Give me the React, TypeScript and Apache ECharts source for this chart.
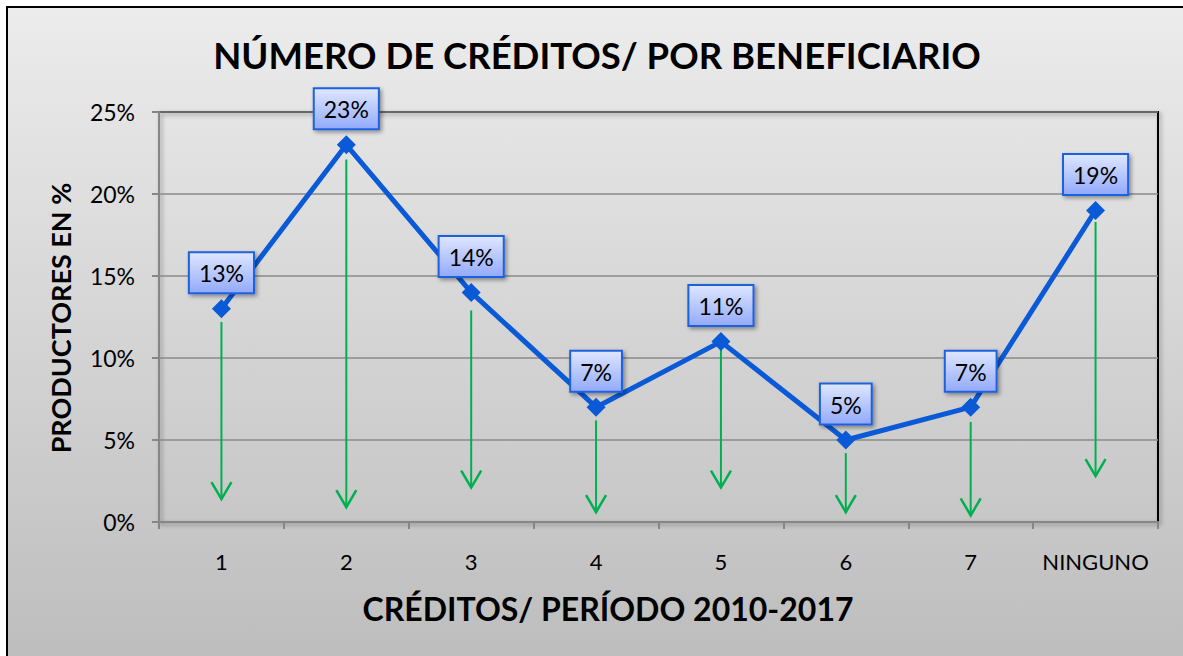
import React, { useEffect, useRef } from "react";
import * as echarts from "echarts";

const categories = ["1", "2", "3", "4", "5", "6", "7", "NINGUNO"];
const values = [13, 23, 14, 7, 11, 5, 7, 19];
const arrowStart = [12.2, 22.1, 12.9, 6.2, 10.5, 4.2, 6.1, 18.3];
const arrowEnd = [1.4, 0.9, 2.1, 0.6, 2.1, 0.6, 0.4, 2.8];
const yTicks = { min: 0, max: 25, interval: 5 };
const titleText = "NÚMERO DE CRÉDITOS/ POR BENEFICIARIO";
const xName = "CRÉDITOS/ PERÍODO 2010-2017";
const yName = "PRODUCTORES EN %";

const FONT = "Lato, 'Noto Sans', sans-serif";

export default function App() {
  const ref = useRef<HTMLDivElement>(null);
  useEffect(() => {
    if (!ref.current) return;
    const chart = echarts.init(ref.current, null, { renderer: "svg" });
    const green = "#00b050";
    chart.setOption({
      animation: false,
      textStyle: { fontFamily: FONT },
      graphic: [
        {
          type: "rect",
          z: -100,
          silent: true,
          shape: { x: 7, y: 7, width: 1190, height: 670 },
          style: {
            fill: new echarts.graphic.LinearGradient(0, 0, 0, 1, [
              { offset: 0, color: "#ececec" },
              { offset: 1, color: "#bcbcbc" },
            ]),
            stroke: "#000",
            lineWidth: 2,
          },
        },
        {
          type: "text",
          x: 597,
          y: 55,
          style: {
            text: titleText,
            align: "center",
            verticalAlign: "middle",
            font: `bold 36.5px ${FONT}`,
            fill: "#000",
          },
        },
        {
          type: "text",
          x: 608,
          y: 608,
          style: {
            text: xName,
            align: "center",
            verticalAlign: "middle",
            font: `bold 32px ${FONT}`,
            fill: "#000",
          },
        },
        {
          type: "text",
          x: 60,
          y: 318,
          rotation: Math.PI / 2,
          style: {
            text: yName,
            align: "center",
            verticalAlign: "middle",
            font: `bold 27px ${FONT}`,
            fill: "#000",
          },
        },
      ],
      grid: {
        left: 159,
        top: 112,
        right: 25,
        bottom: 134,
        show: true,
        borderColor: "#000",
        borderWidth: 2,
        backgroundColor: "transparent",
        shadowColor: "rgba(0,0,0,0.35)",
        shadowBlur: 4,
        shadowOffsetX: 2,
        shadowOffsetY: 2,
      },
      xAxis: {
        type: "category",
        data: categories,
        boundaryGap: true,
        axisLine: { show: true, lineStyle: { color: "#868686", width: 2 } },
        axisTick: { show: true, interval: 0, length: 7, lineStyle: { color: "#868686", width: 2 } },
        axisLabel: { interval: 0, color: "#000", fontSize: 22, fontFamily: FONT, margin: 28 },
        splitLine: { show: false },
      },
      yAxis: {
        type: "value",
        min: yTicks.min,
        max: yTicks.max,
        interval: yTicks.interval,
        axisLine: { show: true, lineStyle: { color: "#868686", width: 2 } },
        axisTick: { show: true, length: 7, lineStyle: { color: "#868686", width: 2 } },
        axisLabel: {
          color: "#000",
          fontSize: 23,
          fontFamily: FONT,
          margin: 24,
          formatter: "{value}%",
        },
        splitLine: { show: true, lineStyle: { color: "#8a8a8a", width: 1.5 } },
      },
      series: [
        {
          type: "custom",
          z: 1,
          silent: true,
          data: arrowStart.map((s, i) => [i, s, arrowEnd[i]]),
          encode: { x: 0, y: [1, 2] },
          renderItem: (params: any, api: any) => {
            const s = api.coord([api.value(0), api.value(1)]);
            const e = api.coord([api.value(0), api.value(2)]);
            return {
              type: "group",
              children: [
                {
                  type: "line",
                  shape: { x1: s[0], y1: s[1], x2: e[0], y2: e[1] },
                  style: { stroke: green, lineWidth: 2 },
                },
                {
                  type: "polyline",
                  shape: {
                    points: [
                      [e[0] - 10, e[1] - 17],
                      [e[0], e[1]],
                      [e[0] + 10, e[1] - 17],
                    ],
                  },
                  style: { stroke: green, lineWidth: 2.5, fill: "none" },
                },
              ],
            };
          },
        },
        {
          type: "line",
          z: 3,
          data: values,
          symbol: "diamond",
          symbolSize: 19,
          lineStyle: { color: "#0a5ad8", width: 5 },
          itemStyle: { color: "#0a5ad8" },
          label: {
            show: true,
            position: "top",
            distance: 7,
            formatter: "{c}%",
            color: "#000",
            fontSize: 23,
            fontFamily: FONT,
            lineHeight: 24,
            padding: [8, 9, 7, 9],
            backgroundColor: new echarts.graphic.LinearGradient(0, 0, 0, 1, [
              { offset: 0, color: "#dde5ff" },
              { offset: 1, color: "#94abfb" },
            ]),
            borderColor: "#1f62dc",
            borderWidth: 2,
            shadowColor: "rgba(0,0,0,0.4)",
            shadowBlur: 4,
            shadowOffsetX: 2,
            shadowOffsetY: 2,
          },
        },
      ],
    });
    return () => chart.dispose();
  }, []);
  return (
    <div
      ref={ref}
      style={{ position: "absolute", left: 0, top: 0, width: 1183, height: 656, background: "#fff" }}
    />
  );
}
